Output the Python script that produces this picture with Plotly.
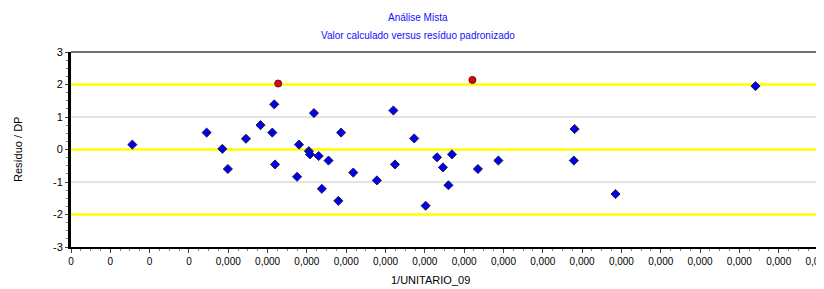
import plotly.graph_objects as go

# --- data (x in units of 1/UNITARIO_09, y = standardized residual) ---
x_blue = [0.000156, 0.000345, 0.000385, 0.000399, 0.000445, 0.000482, 0.000512, 0.000517,
          0.000519, 0.000575, 0.000580, 0.000605, 0.000608, 0.000618, 0.000630, 0.000638,
          0.000655, 0.000680, 0.000687, 0.000718, 0.000778, 0.000820, 0.000824, 0.000873,
          0.000902, 0.000931, 0.000946, 0.000960, 0.000969, 0.001035, 0.001087, 0.001279,
          0.001281, 0.001385, 0.001741]
y_blue = [0.15, 0.52, 0.02, -0.60, 0.33, 0.75, 0.52, 1.39,
          -0.46, -0.84, 0.15, -0.05, -0.15, 1.12, -0.20, -1.21,
          -0.34, -1.58, 0.52, -0.71, -0.95, 1.20, -0.46, 0.34,
          -1.73, -0.24, -0.55, -1.10, -0.15, -0.60, -0.34, -0.34,
          0.63, -1.37, 1.95]
x_red = [0.000527, 0.001021]
y_red = [2.03, 2.14]

x_tickvals = [i * 0.0001 for i in range(20)]
x_ticktext = ["0", "0", "0", "0"] + ["0,000"] * 16
y_tickvals = [-3, -2, -1, 0, 1, 2, 3]
y_ticktext = ["-3", "-2", "-1", "0", "1", "2", "3"]
yellow_levels = [-2, 0, 2]
gray_levels = [-1, 1]

title = "Análise Mista"
subtitle = "Valor calculado versus resíduo padronizado"
x_title = "1/UNITARIO_09"
y_title = "Resíduo / DP"

FONT = "Liberation Sans, Arial, sans-serif"

# page body has an 8px offset; layout numbers below are in figure coords
W, H = 824, 289
L, R, T, B = 63, 14, 44, 50
pw, ph = W - L - R, H - T - B


def px_x(fx):
    return (fx - L) / pw


def px_y(fy):
    return (H - B - fy) / ph


fig = go.Figure()
fig.add_trace(go.Scatter(
    x=x_blue, y=y_blue, mode="markers",
    marker=dict(symbol="diamond", size=7, color="#0000ee",
                line=dict(color="#202040", width=1)),
    showlegend=False))
fig.add_trace(go.Scatter(
    x=x_red, y=y_red, mode="markers",
    marker=dict(symbol="circle", size=7, color="#ee0000",
                line=dict(color="#402020", width=1)),
    showlegend=False))

shapes = []
for v in gray_levels:
    shapes.append(dict(type="line", xref="paper", yref="y", x0=0, x1=1, y0=v, y1=v,
                       line=dict(color="#c8c8c8", width=1), layer="below"))
for v in yellow_levels:
    shapes.append(dict(type="line", xref="paper", yref="y", x0=0, x1=1, y0=v, y1=v,
                       line=dict(color="#ffff00", width=2.5), layer="below"))
shapes.append(dict(type="line", xref="paper", yref="paper", x0=0, x1=1, y0=1, y1=1,
                   line=dict(color="#404040", width=1.5)))
shapes.append(dict(type="line", xref="paper", yref="paper", x0=1, x1=1, y0=0, y1=1,
                   line=dict(color="#909090", width=1.5)))

blue = "#1010ff"
fig.update_layout(
    width=W, height=H,
    margin=dict(l=L, r=R, t=T, b=B),
    paper_bgcolor="white", plot_bgcolor="white",
    font=dict(family=FONT, size=10, color="#000000"),
    shapes=shapes,
    annotations=[
        dict(text=title, xref="paper", yref="paper", x=px_x(410), y=px_y(10),
             xanchor="center", yanchor="middle", showarrow=False,
             font=dict(color=blue, size=10)),
        dict(text=subtitle, xref="paper", yref="paper", x=px_x(410), y=px_y(27),
             xanchor="center", yanchor="middle", showarrow=False,
             font=dict(color=blue, size=10)),
        dict(text=x_title, xref="paper", yref="paper", x=px_x(422), y=px_y(272),
             xanchor="center", yanchor="middle", showarrow=False, font=dict(size=11)),
        dict(text=y_title, xref="paper", yref="paper", x=px_x(10), y=px_y(142),
             xanchor="center", yanchor="middle", showarrow=False, textangle=-90,
             font=dict(size=11)),
    ],
    xaxis=dict(
        range=[0, 0.0019], tickmode="array", tickvals=x_tickvals, ticktext=x_ticktext,
        showgrid=False, zeroline=False, showline=True, linecolor="black", linewidth=1.5,
        ticks="outside", ticklen=4, tickcolor="#404040", automargin=False,
        minor=dict(tickmode="linear", tick0=0, dtick=0.000025, ticks="outside",
                   ticklen=2, tickcolor="#808080"),
        tickfont=dict(size=10),
    ),
    yaxis=dict(
        range=[-3, 3], tickmode="array", tickvals=y_tickvals, ticktext=y_ticktext,
        showgrid=False, zeroline=False, showline=True, linecolor="black", linewidth=3,
        ticks="outside", ticklen=3, tickcolor="#404040", automargin=False,
        minor=dict(tickmode="linear", tick0=0, dtick=0.25, ticks="outside",
                   ticklen=2, tickcolor="#808080"),
        tickfont=dict(size=11),
    ),
)

fig.write_html("out.html")
